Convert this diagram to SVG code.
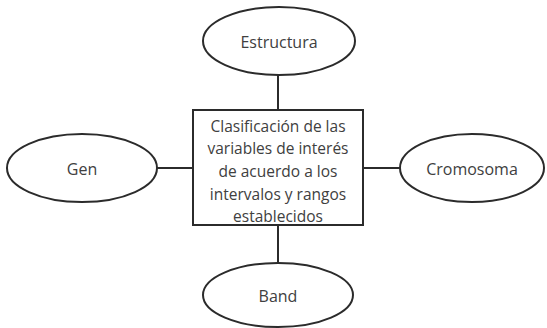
<svg xmlns="http://www.w3.org/2000/svg" width="547" height="328" viewBox="0 0 547 328">
<style>
.s{fill:#fff;stroke:#2b2b2b;stroke-width:2}
.c{stroke:#2b2b2b;stroke-width:2;fill:none}
text{font-family:"Open Sans","Noto Sans",sans-serif;font-size:16px;fill:#404040;text-anchor:middle;dominant-baseline:central}
.b{font-size:15.5px}
</style>
<rect width="547" height="328" fill="#fff"/>
<g id="connectors">
<line class="c" x1="278" y1="75" x2="278" y2="110"/>
<line class="c" x1="278" y1="225" x2="278" y2="262"/>
<line class="c" x1="157" y1="168" x2="193" y2="168"/>
<line class="c" x1="363" y1="168" x2="400" y2="168"/>
</g>
<g id="estructura">
<ellipse class="s" cx="279" cy="41" rx="76" ry="34"/>
<text x="279" y="42">Estructura</text>
</g>
<g id="gen">
<ellipse class="s" cx="82" cy="168" rx="75" ry="34"/>
<text x="82" y="169">Gen</text>
</g>
<g id="cromosoma">
<ellipse class="s" cx="472" cy="168" rx="72" ry="34"/>
<text x="472" y="169">Cromosoma</text>
</g>
<g id="band">
<ellipse class="s" cx="278" cy="295" rx="75" ry="32"/>
<text x="278" y="296">Band</text>
</g>
<g id="clasificacion">
<rect class="s" x="193" y="110" width="170" height="115"/>
<text class="b" x="278" y="126">Clasificación de las</text>
<text class="b" x="278" y="148">variables de interés</text>
<text class="b" x="278" y="171">de acuerdo a los</text>
<text class="b" x="278" y="194">intervalos y rangos</text>
<text class="b" x="278" y="216">establecidos</text>
</g>
</svg>
